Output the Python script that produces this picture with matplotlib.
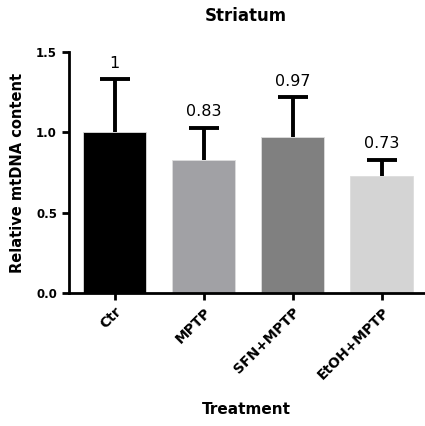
import matplotlib
matplotlib.use('Agg')
import matplotlib.pyplot as plt
import numpy as np

plt.rcParams['font.family'] = ['DejaVu Sans']

groups = ['Ctr', 'MPTP', 'SFN+MPTP', 'EtOH+MPTP']
means = [1.0, 0.83, 0.97, 0.73]
sem = [0.33, 0.20, 0.25, 0.10]
colors = ['#000000', '#A1A1A5', '#808080', '#D4D4D4']

fig = plt.figure(figsize=(4.25, 4.26), dpi=100)
ax = fig.add_axes([0.162, 0.312, 0.835, 0.566])

x = np.arange(len(groups))
ax.bar(x, means, width=0.71, color=colors, edgecolor='#DDDDDD', linewidth=0.6, zorder=2)
# upper error only: hide the lower cap
eb = ax.errorbar(x, means, yerr=[np.zeros(len(sem)), sem], fmt='none', ecolor='black',
                 elinewidth=2.8, capsize=11, capthick=2.8, zorder=3)
eb[1][0].set_visible(False)

for xi, m, e in zip(x, means, sem):
    ax.annotate(f'{m:g}', (xi, m + e), xytext=(0, 6), textcoords='offset points',
                ha='center', va='bottom', fontsize=11.5)

ax.set_xlim(-0.515, 3.47)
ax.set_ylim(0, 1.5)
ax.set_yticks([0.0, 0.5, 1.0, 1.5])
ax.set_yticklabels(['0.0', '0.5', '1.0', '1.5'], fontweight='bold', fontsize=8.5)
ax.set_xticks(x)
ax.set_xticklabels(groups, rotation=45, ha='right', rotation_mode='anchor',
                   fontweight='bold', fontsize=10)

for s in ['top', 'right']:
    ax.spines[s].set_visible(False)
for s in ['left', 'bottom']:
    ax.spines[s].set_linewidth(2.0)
ax.tick_params(axis='both', width=2.0, length=5, direction='out')

ax.set_ylabel('Relative mtDNA content', fontweight='bold', fontsize=10.5, labelpad=8)
ax.set_xlabel('Treatment', fontweight='bold', fontsize=11, labelpad=14)
ax.set_title('Striatum', fontweight='bold', fontsize=12, pad=22)

fig.savefig('out.png', dpi=100)
